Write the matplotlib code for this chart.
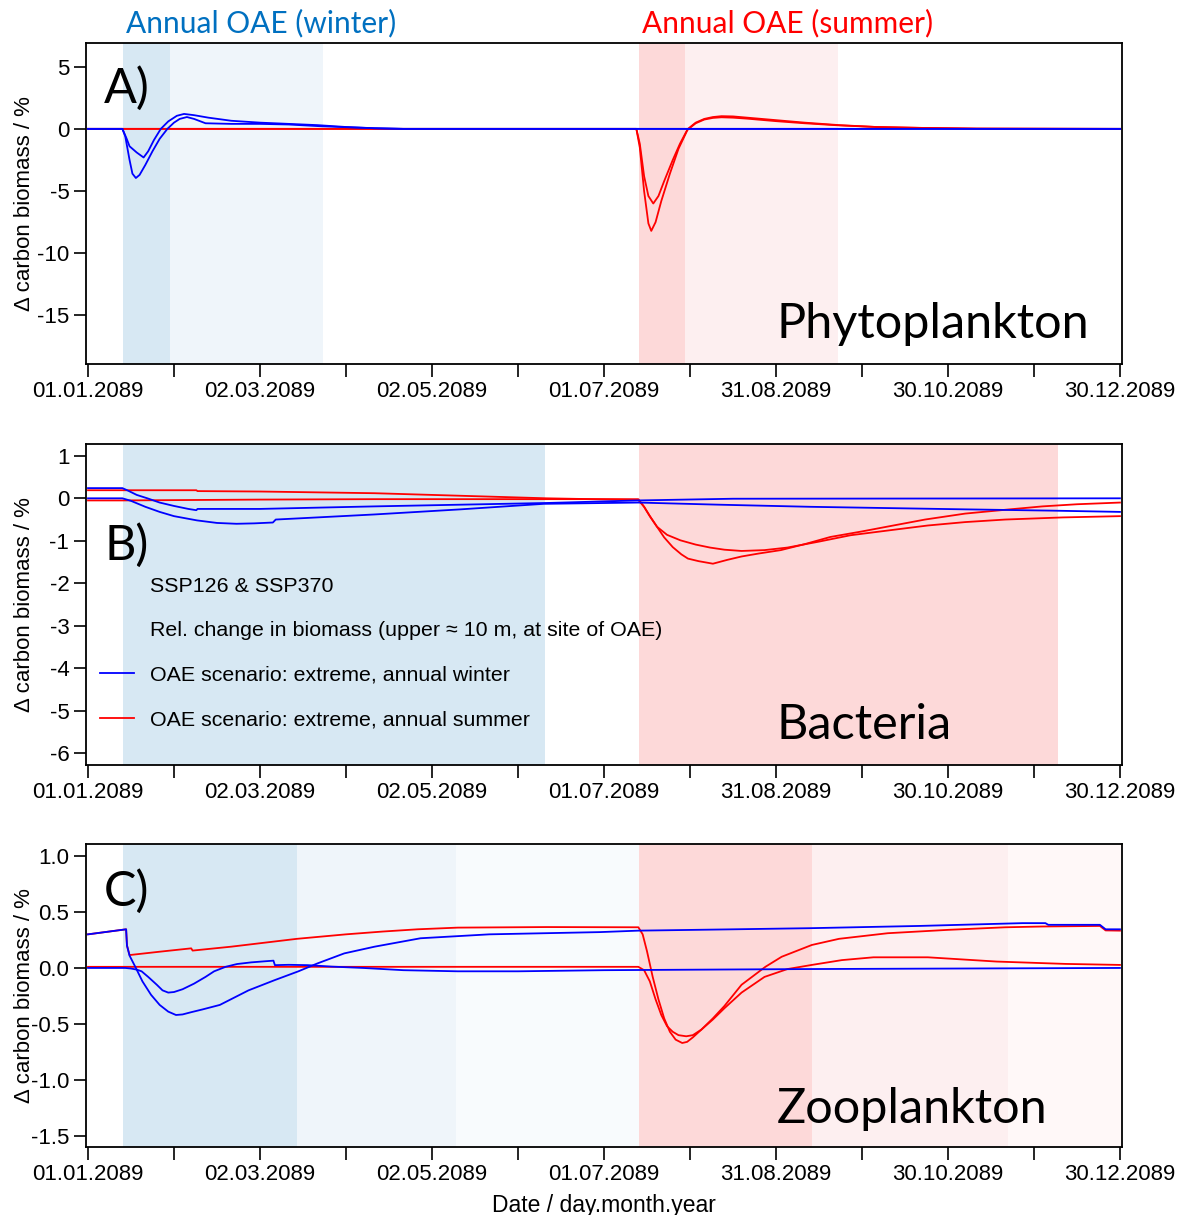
import matplotlib

matplotlib.use("Agg")

import matplotlib.pyplot as plt
from matplotlib.lines import Line2D

plt.rcParams["font.family"] = ["Liberation Sans", "DejaVu Sans"]

# ---- x axis: days since 01.01.2089 ----
tick_days = [0, 30, 60, 90, 120, 150, 180, 210, 240, 270, 300, 330, 360]
tick_labels = ["01.01.2089", "", "02.03.2089", "", "02.05.2089", "",
               "01.07.2089", "", "31.08.2089", "", "30.10.2089", "", "30.12.2089"]

# ---- A) Phytoplankton ----
phyto_w1_days = [0, 12, 13.5, 14.5, 15.5, 17, 19.4, 21, 23, 25.4, 28, 31, 33.5, 37, 42, 50,
                 60, 70, 80, 90, 100, 110, 360]
phyto_w1 = [0, 0, -0.8, -1.4, -1.6, -1.9, -2.3, -1.8, -0.9, 0, 0.6, 1.05, 1.2, 1.1, 0.9, 0.65,
            0.5, 0.4, 0.3, 0.15, 0.05, 0, 0]
phyto_w2_days = [0, 12, 13, 14.5, 15.5, 16.7, 18, 20, 22.5, 25, 27.7, 30, 32, 34.5, 37, 41, 50,
                 60, 70, 82, 100, 110, 360]
phyto_w2 = [0, 0, -0.6, -2.5, -3.6, -3.95, -3.7, -2.9, -1.8, -0.8, 0, 0.5, 0.8, 0.95, 0.8, 0.45,
            0.4, 0.4, 0.35, 0.2, 0.05, 0, 0]
phyto_s1_days = [0, 191.3, 192.5, 194, 195.5, 196.5, 198, 200, 203, 206, 209.3, 212, 215, 218,
                 221, 225, 230, 240, 250, 262, 275, 290, 310, 360]
phyto_s1 = [0, 0, -1.5, -5, -7.6, -8.2, -7.5, -5.8, -3.6, -1.6, 0, 0.5, 0.8, 0.95, 1.02, 1.0,
            0.9, 0.7, 0.5, 0.3, 0.15, 0.08, 0.02, 0]
phyto_s2_days = [0, 191.3, 192.5, 194, 195.5, 197.2, 199, 201, 204, 206.5, 209, 212, 215, 218,
                 221, 225, 230, 240, 250, 262, 275, 290, 310, 360]
phyto_s2 = [0, 0, -1.2, -3.8, -5.4, -6.0, -5.4, -4.2, -2.5, -1.2, -0.1, 0.45, 0.75, 0.88, 0.93,
            0.9, 0.82, 0.62, 0.45, 0.28, 0.15, 0.08, 0.02, 0]

# ---- B) Bacteria ----
bact_w1_days = [0, 12, 14, 17, 20.7, 25, 30, 35, 37.8, 38.2, 45, 60, 80, 100, 130, 160, 192,
                225, 360]
bact_w1 = [0.24, 0.24, 0.18, 0.08, 0, -0.1, -0.18, -0.25, -0.28, -0.25, -0.25, -0.25, -0.22,
           -0.19, -0.15, -0.11, -0.05, -0.01, 0]
bact_w2_days = [0, 12, 15, 20, 25, 30, 38, 45, 51.8, 58, 64.5, 65.5, 80, 100, 130, 159, 192,
                220, 252, 306, 336, 360]
bact_w2 = [0, 0, -0.06, -0.2, -0.32, -0.42, -0.52, -0.58, -0.6, -0.59, -0.57, -0.5, -0.45,
           -0.38, -0.26, -0.13, -0.1, -0.15, -0.2, -0.26, -0.29, -0.32]
bact_s1_days = [0, 12, 37.8, 38.2, 60, 100, 130, 160, 192, 194, 196, 198.5, 201, 204, 207,
                209.3, 213, 218, 223, 228, 234, 241.7, 250, 259, 270, 279.4, 292, 306, 320,
                333, 345, 360]
bact_s1 = [0.19, 0.19, 0.19, 0.17, 0.16, 0.12, 0.06, 0.0, -0.04, -0.2, -0.42, -0.67, -0.92,
           -1.15, -1.32, -1.42, -1.48, -1.54, -1.45, -1.37, -1.3, -1.22, -1.08, -0.91, -0.78,
           -0.66, -0.5, -0.36, -0.27, -0.19, -0.14, -0.1]
bact_s2_days = [0, 12, 60, 100, 160, 192, 194, 196, 198.5, 202, 206.7, 212, 217, 222, 228,
                236, 244, 255, 266, 280, 293, 306, 320, 340, 360]
bact_s2 = [-0.05, -0.05, -0.03, -0.02, -0.02, -0.02, -0.2, -0.42, -0.67, -0.86, -0.99, -1.09,
           -1.16, -1.21, -1.24, -1.22, -1.16, -1.02, -0.87, -0.75, -0.64, -0.56, -0.5, -0.45,
           -0.42]

# ---- C) Zooplankton ----
zoo_w1_days = [0, 13.3, 13.6, 14.5, 16.7, 19, 22, 25, 28, 30.7, 33, 36, 40, 46, 56, 65, 73.4,
               80, 89.4, 100, 116, 140, 178.6, 192, 220, 252, 290, 326, 334, 335, 353, 355, 360]
zoo_w1 = [0.30, 0.345, 0.2, 0.11, 0.0, -0.12, -0.24, -0.33, -0.39, -0.42, -0.415, -0.395,
          -0.37, -0.33, -0.2, -0.11, -0.03, 0.04, 0.13, 0.19, 0.265, 0.3, 0.32, 0.333, 0.343,
          0.355, 0.375, 0.40, 0.40, 0.385, 0.385, 0.345, 0.345]
zoo_w2_days = [0, 13, 15, 17, 18.7, 21, 24, 26, 28, 30, 33, 37, 41, 44, 48, 52, 57, 62, 64.7,
               65.2, 70, 76.6, 85, 96, 110, 129, 150, 180, 250, 360]
zoo_w2 = [0, 0, -0.005, -0.015, -0.03, -0.08, -0.15, -0.2, -0.22, -0.215, -0.19, -0.14, -0.08,
          -0.03, 0.01, 0.035, 0.05, 0.06, 0.065, 0.025, 0.028, 0.025, 0.012, 0, -0.02, -0.03,
          -0.03, -0.02, -0.01, 0]
zoo_s1_days = [0, 13.3, 13.6, 14.5, 25, 36, 36.5, 50, 72.9, 90, 102.8, 115, 129, 160, 192,
               193.5, 195, 197, 199, 201, 203, 205, 207.3, 209, 211, 214, 218, 222, 228, 236.3,
               242, 252.5, 262, 279, 300, 320, 333, 353, 355, 360]
zoo_s1 = [0.30, 0.345, 0.2, 0.115, 0.145, 0.175, 0.155, 0.19, 0.26, 0.3, 0.325, 0.345, 0.36,
          0.365, 0.363, 0.3, 0.15, -0.08, -0.28, -0.45, -0.57, -0.64, -0.67, -0.66, -0.62,
          -0.55, -0.45, -0.34, -0.15, 0.01, 0.1, 0.205, 0.26, 0.31, 0.34, 0.363, 0.37, 0.375,
          0.335, 0.333]
zoo_s2_days = [0, 192, 194, 196, 198, 200, 202, 204, 206, 208.7, 211, 214, 218, 222, 228, 236,
               244, 252.5, 263, 274, 293, 317, 341, 360]
zoo_s2 = [0.01, 0.01, -0.02, -0.12, -0.28, -0.42, -0.52, -0.57, -0.6, -0.61, -0.6, -0.55,
          -0.46, -0.36, -0.22, -0.08, -0.01, 0.027, 0.07, 0.095, 0.095, 0.057, 0.036, 0.027]

# shaded OAE periods (start day, end day)
phyto_winter_spans = [(12.2, 28.6), (28.6, 82.0)]
phyto_summer_spans = [(192.2, 208.2), (208.2, 261.6)]
bact_winter_spans = [(12.2, 159.4)]
bact_summer_spans = [(192.2, 338.3)]
zoo_winter_spans = [(12.2, 72.9), (72.9, 128.4), (128.4, 192.2)]
zoo_summer_spans = [(192.2, 252.5), (252.5, 320.9), (320.9, 361)]

BLUE = "#0000ff"
RED = "#ff0000"
winter_shades = ["#d7e8f3", "#eff5fa", "#f8fbfd"]
summer_shades = ["#fdd9d9", "#fdeff0", "#fff8f8"]

TITLE_FONT = ["Lato", "DejaVu Sans"]

fig = plt.figure(figsize=(11.86, 12.15), dpi=100)
axA = fig.add_axes([0.0725, 0.7004, 0.8735, 0.2642])
axB = fig.add_axes([0.0725, 0.3704, 0.8735, 0.2642])
axC = fig.add_axes([0.0725, 0.0560, 0.8735, 0.2494])

panels = [
    (axA, phyto_winter_spans, phyto_summer_spans,
     [(phyto_s1_days, phyto_s1), (phyto_s2_days, phyto_s2)],
     [(phyto_w1_days, phyto_w1), (phyto_w2_days, phyto_w2)],
     (-18.9, 6.9), [5, 0, -5, -10, -15], ["5", "0", "-5", "-10", "-15"],
     "A)", 0.813, "Phytoplankton"),
    (axB, bact_winter_spans, bact_summer_spans,
     [(bact_s1_days, bact_s1), (bact_s2_days, bact_s2)],
     [(bact_w1_days, bact_w1), (bact_w2_days, bact_w2)],
     (-6.28, 1.28), [1, 0, -1, -2, -3, -4, -5, -6],
     ["1", "0", "-1", "-2", "-3", "-4", "-5", "-6"],
     "B)", 0.639, "Bacteria"),
    (axC, zoo_winter_spans, zoo_summer_spans,
     [(zoo_s1_days, zoo_s1), (zoo_s2_days, zoo_s2)],
     [(zoo_w1_days, zoo_w1), (zoo_w2_days, zoo_w2)],
     (-1.598, 1.107), [1.0, 0.5, 0.0, -0.5, -1.0, -1.5],
     ["1.0", "0.5", "0.0", "-0.5", "-1.0", "-1.5"],
     "C)", 0.795, "Zooplankton"),
]

for (ax, wspans, sspans, red_lines, blue_lines, ylim, yticks, ylabels,
     letter, letter_y, name) in panels:
    for (x0, x1), c in zip(wspans, winter_shades):
        ax.axvspan(x0, x1, color=c, lw=0, zorder=0)
    for (x0, x1), c in zip(sspans, summer_shades):
        ax.axvspan(x0, x1, color=c, lw=0, zorder=0)
    for d, v in red_lines:
        ax.plot(d, v, color=RED, lw=1.3, zorder=2)
    for d, v in blue_lines:
        ax.plot(d, v, color=BLUE, lw=1.3, zorder=3)

    ax.set_xlim(-0.7, 360.7)
    ax.set_ylim(*ylim)
    ax.set_xticks(tick_days)
    ax.set_xticklabels(tick_labels, fontsize=16)
    ax.set_yticks(yticks)
    ax.set_yticklabels(ylabels, fontsize=16)
    ax.tick_params(direction="out", length=9, width=1.2, pad=3)
    for s in ax.spines.values():
        s.set_linewidth(1.3)
    ax.set_ylabel("\u0394 carbon biomass / %", fontsize=16)
    ax.yaxis.set_label_coords(-0.049, 0.5)

    ax.text(0.0174, letter_y, letter, transform=ax.transAxes, fontsize=35,
            family=TITLE_FONT, va="baseline", ha="left")
    ax.text(0.667, 0.08, name, transform=ax.transAxes, fontsize=35,
            family=TITLE_FONT, va="baseline", ha="left")

axA.text(0.169, 1.034, "Annual OAE (winter)", transform=axA.transAxes, fontsize=21.5,
         family=TITLE_FONT, color="#0070c0", ha="center", va="baseline")
axA.text(0.677, 1.034, "Annual OAE (summer)", transform=axA.transAxes, fontsize=21.5,
         family=TITLE_FONT, color=RED, ha="center", va="baseline")

handles = [Line2D([], [], color="none"), Line2D([], [], color="none"),
           Line2D([], [], color=BLUE, lw=1.3), Line2D([], [], color=RED, lw=1.3)]
labels = ["SSP126 & SSP370",
          "Rel. change in biomass (upper \u2248 10 m, at site of OAE)",
          "OAE scenario: extreme, annual winter",
          "OAE scenario: extreme, annual summer"]
axB.legend(handles, labels, loc="upper left", bbox_to_anchor=(0.0135, 0.587),
           frameon=False, fontsize=15.4, handlelength=1.6, handletextpad=0.75,
           labelspacing=1.2, borderpad=0, borderaxespad=0)

axC.set_xlabel("Date / day.month.year", fontsize=16.5, labelpad=7)

fig.savefig("out.png", dpi=100)
